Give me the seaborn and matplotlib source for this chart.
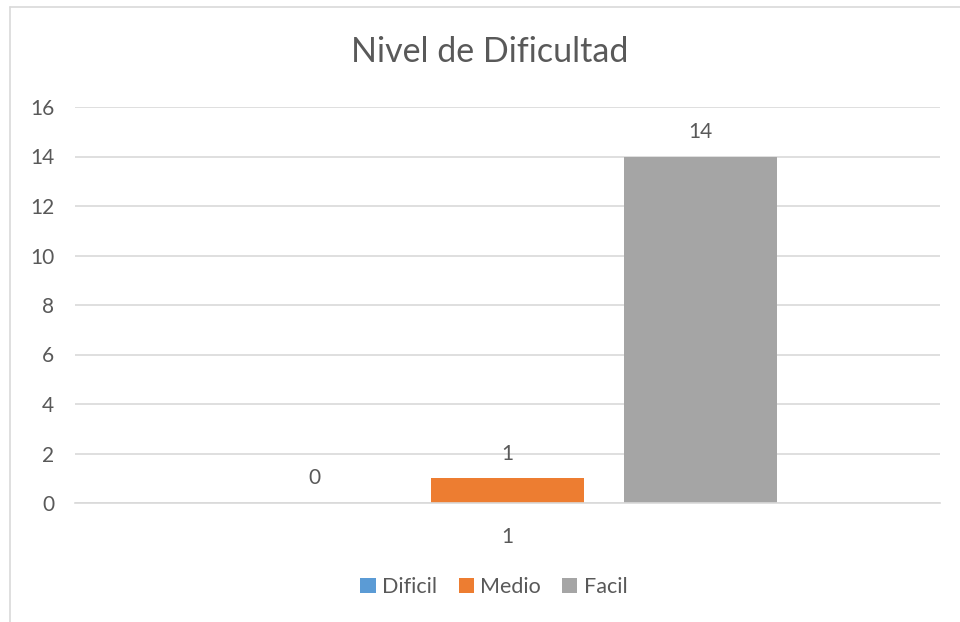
import pandas as pd
import matplotlib.pyplot as plt
import seaborn as sns
from matplotlib.lines import Line2D
from matplotlib.patches import Patch

# --- DATA ---
categorias = ["1"]
niveles = ["Dificil", "Medio", "Facil"]
conteos = [0, 1, 14]
colores = ["#5B9BD5", "#ED7D31", "#A5A5A5"]
y_ticks = [0, 2, 4, 6, 8, 10, 12, 14, 16]

TEXT = "#595959"
GRID = "#D9D9D9"

sns.set_theme(style="white")
plt.rcParams['font.family'] = ['Lato', 'DejaVu Sans']

df = pd.DataFrame({
    "categoria": categorias * len(niveles),
    "nivel": niveles,
    "conteo": conteos,
})

fig = plt.figure(figsize=(9.6, 6.22), dpi=100)
ax = fig.add_axes([75 / 960, 1 - 503 / 622, 865 / 960, 396 / 622])

sns.barplot(data=df, x="categoria", y="conteo", hue="nivel", hue_order=niveles,
            palette=colores, width=0.669, gap=0.21, saturation=1, ax=ax,
            legend=False, errorbar=None, linewidth=0)

for cont in ax.containers:
    ax.bar_label(cont, padding=10.5, fontsize=15, color=TEXT)

ax.set_xlim(-0.5, 0.5)
ax.set_ylim(0, 16)
ax.set_yticks(y_ticks)
ax.set_axisbelow(True)
ax.yaxis.grid(True, color=GRID, lw=1.2)
for s in ["top", "right", "left"]:
    ax.spines[s].set_visible(False)
ax.spines["bottom"].set_color(GRID)
ax.spines["bottom"].set_linewidth(1.2)
ax.tick_params(axis="y", length=0, pad=15, labelsize=15, labelcolor=TEXT)
ax.tick_params(axis="x", length=0, pad=17, labelsize=15, labelcolor=TEXT)
ax.set_xlabel("")
ax.set_ylabel("")

fig.text(490 / 960, 1 - 52 / 622, "Nivel de Dificultad", ha="center", va="center",
         fontsize=24.5, color=TEXT)

handles = [Patch(facecolor=c, edgecolor="none") for c in colores]
fig.legend(handles, niveles, loc="center", bbox_to_anchor=(494 / 960, 1 - 587 / 622),
           ncol=3, frameon=False, fontsize=15.5, labelcolor=TEXT,
           handlelength=0.7, handleheight=0.7, handletextpad=0.3, columnspacing=1.0)

# chart frame (left and top edges visible)
fig.add_artist(Line2D([10 / 960, 10 / 960], [0, 1 - 7 / 622], transform=fig.transFigure,
                      color=GRID, lw=1.2))
fig.add_artist(Line2D([10 / 960, 1], [1 - 7 / 622, 1 - 7 / 622], transform=fig.transFigure,
                      color=GRID, lw=1.2))

fig.savefig("out.png", dpi=100, facecolor="white")
